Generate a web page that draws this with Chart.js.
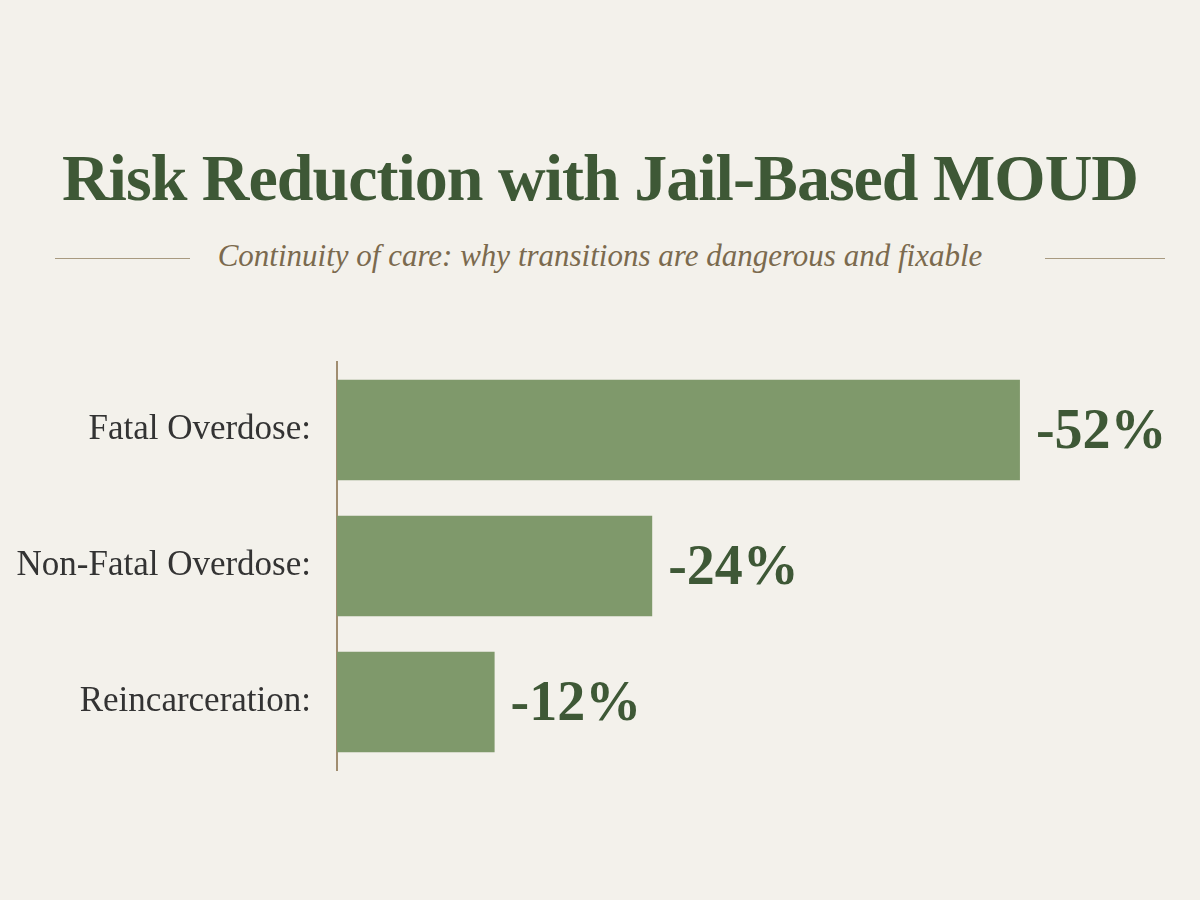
<!DOCTYPE html>
<html><head><meta charset="utf-8">
<script src="https://cdn.jsdelivr.net/npm/chart.js@4"></script>
<style>
body{margin:0;width:1200px;height:900px;background:#f3f1eb;position:relative;overflow:hidden;font-family:"Liberation Serif","DejaVu Serif",serif}
#t{position:absolute;top:140px;width:1200px;text-align:center;font-size:66px;font-weight:bold;color:#3e5836;letter-spacing:-1px}
#s{position:absolute;top:238px;width:1200px;text-align:center;font-size:31px;font-style:italic;color:#7b6a4e}
.ln{position:absolute;top:258px;height:1px;background:#a89a80}
#c{position:absolute;left:0;top:323px;width:1200px;height:486px}
</style></head><body>
<div id="t">Risk Reduction with Jail-Based MOUD</div>
<div id="s">Continuity of care: why transitions are dangerous and fixable</div>
<div class="ln" style="left:55px;width:135px"></div>
<div class="ln" style="left:1045px;width:120px"></div>
<div id="c"><canvas id="cv"></canvas></div>
<script>
const categories=["Fatal Overdose:","Non-Fatal Overdose:","Reincarceration:"];
const values=[52,24,12];
const valueLabels=["-52%","-24%","-12%"];
const labelPlugin={id:"vl",afterDatasetsDraw(ch){const ctx=ch.ctx;const m=ch.getDatasetMeta(0);ctx.save();ctx.fillStyle="#3e5836";ctx.font="bold 56px 'Liberation Serif', serif";ctx.textBaseline="middle";m.data.forEach((b,i)=>{ctx.fillText(valueLabels[i],b.x+16,b.y+4);});ctx.restore();}};
new Chart(document.getElementById("cv"),{type:"bar",data:{labels:categories,datasets:[{data:values,backgroundColor:"#7f996b",barPercentage:0.74,categoryPercentage:1}]},
options:{indexAxis:"y",responsive:true,maintainAspectRatio:false,animation:false,layout:{padding:{right:75,top:5,bottom:5}},
plugins:{legend:{display:false},tooltip:{enabled:false}},
scales:{x:{display:false,min:0,max:60},y:{afterFit(s){s.width=337;},grid:{display:false},border:{color:"#a08d70",width:2},ticks:{color:"#333",font:{family:"'Liberation Serif', serif",size:35},padding:18}}}},plugins:[labelPlugin]});
</script></body></html>
